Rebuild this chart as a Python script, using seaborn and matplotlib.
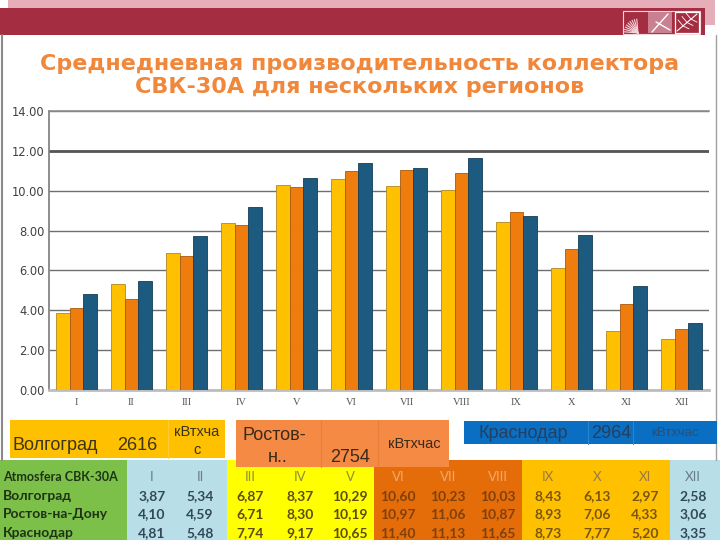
import numpy as np
import pandas as pd
import matplotlib.pyplot as plt
import seaborn as sns
from matplotlib.patches import Rectangle

# Данные: среднедневная производительность, кВт*ч
months = ["I", "II", "III", "IV", "V", "VI", "VII", "VIII", "IX", "X", "XI", "XII"]
volgograd = [3.87, 5.34, 6.87, 8.37, 10.29, 10.60, 10.23, 10.03, 8.43, 6.13, 2.97, 2.58]
rostov = [4.10, 4.59, 6.71, 8.30, 10.19, 10.97, 11.06, 10.87, 8.93, 7.06, 4.33, 3.06]
krasnodar = [4.81, 5.48, 7.74, 9.17, 10.65, 11.40, 11.13, 11.65, 8.73, 7.77, 5.20, 3.35]
regions = ["Волгоград", "Ростов-на-Дону", "Краснодар"]
totals = [2616, 2754, 2964]
unit = "кВтхчас"

bar_colors = ["#FFC000", "#EE7D0E", "#1D5A80"]
edge_colors = ["#B08A20", "#A85A10", "#143E58"]

df = pd.DataFrame({"month": months * 3,
                   "value": volgograd + rostov + krasnodar,
                   "region": np.repeat(regions, len(months))})

sns.set_theme(style="white")
plt.rcParams["font.family"] = ["DejaVu Sans"]

fig = plt.figure(figsize=(7.2, 5.4), dpi=100)

# фон слайда в пикселях
bg = fig.add_axes([0, 0, 1, 1])
bg.set_xlim(0, 720)
bg.set_ylim(540, 0)
bg.axis("off")

# шапка
bg.add_patch(Rectangle((8, 0), 707, 25, color="#E6AEB8", lw=0))
bg.add_patch(Rectangle((0, 8), 705, 27, color="#A52D42", lw=0))
# логотип
bg.add_patch(Rectangle((623, 11), 77, 23, fill=False, ec="#F3D6DB", lw=0.8))
for a in np.linspace(95, 175, 9):
    r = np.radians(a)
    bg.plot([638, 638 + 14 * np.cos(r)], [33, 33 - 14 * np.sin(r)], color="#F3D6DB", lw=0.8)
bg.add_patch(Rectangle((648, 12), 24, 21, color="#C98090", lw=0))
bg.plot([652, 668], [32, 14], color="white", lw=1)
bg.plot([656, 670], [22, 30], color="white", lw=1)
bg.add_patch(Rectangle((675, 12), 24, 21, fill=False, ec="white", lw=0.9))
bg.plot([677, 697], [31, 14], color="white", lw=0.8)
for t in [0.3, 0.5, 0.7]:
    x0, y0 = 677 + 20 * t, 31 - 17 * t
    bg.plot([x0, x0 - 5], [y0, y0 - 6], color="white", lw=0.6)
    bg.plot([x0, x0 + 6], [y0, y0 + 3], color="white", lw=0.6)

# рамка слайда
bg.plot([1.5, 1.5], [35, 460], color="#8A8A8A", lw=1.5)
bg.plot([716, 716], [35, 460], color="#A0A0A0", lw=1.0)

# заголовок
title_color = "#F0873A"
bg.text(360, 64, "Среднедневная производительность коллектора", ha="center", va="center",
        fontsize=16, fontweight="bold", color=title_color)
bg.text(360, 87, "СВК-30А для нескольких регионов", ha="center", va="center",
        fontsize=16, fontweight="bold", color=title_color)

# график
ax = fig.add_axes([49 / 720, 150 / 540, 660 / 720, 279 / 540])
sns.barplot(data=df, x="month", y="value", hue="region", palette=bar_colors,
            saturation=1, width=0.73, legend=False, ax=ax, zorder=3)
for bars, ec in zip(ax.containers, edge_colors):
    for p in bars:
        p.set_edgecolor(ec)
        p.set_linewidth(0.6)

ax.set_xlim(-0.5, 11.5)
ax.set_ylim(0, 14)
ax.set_yticks(range(0, 15, 2))
ax.set_yticklabels([f"{v:.2f}" for v in range(0, 15, 2)], fontsize=8.3, color="#404040")
ax.set_xticks(range(len(months)))
ax.set_xticklabels(months, fontsize=7.5, color="#555555", family="Liberation Serif")
ax.tick_params(axis="y", length=0, pad=3)
ax.tick_params(axis="x", length=0, pad=6)
ax.set_xlabel("")
ax.set_ylabel("")
ax.set_axisbelow(True)
ax.yaxis.grid(True, color="#707070", lw=1)
ax.axhline(12, color="#555555", lw=2, zorder=1)
ax.spines["right"].set_visible(False)
ax.spines["left"].set_color("#808080")
ax.spines["top"].set_color("#8C8C8C")
ax.spines["top"].set_linewidth(1.2)
ax.spines["bottom"].set_color("#BDBDBD")
ax.spines["bottom"].set_linewidth(2)

# таблица
col_x = [152, 200, 250, 300, 350, 398, 448, 498, 548, 597, 645, 693]
row_y = [477, 496, 514, 533]
bands = [(0, 127, "#7CC04A"), (127, 227, "#B8DEE8"), (227, 374, "#FFFF00"),
         (374, 522, "#E46D0A"), (522, 670, "#FFC000"), (670, 720, "#B8DEE8")]
for x0, x1, c in bands:
    bg.add_patch(Rectangle((x0, 460), x1 - x0, 80, color=c, lw=0))

band_of_month = [1, 1, 2, 2, 2, 3, 3, 3, 4, 4, 4, 5]
head_colors = ["#1F3314", "#6A7A8A", "#8C8C40", "#F2A870", "#9A7A40", "#6A7A8A"]
num_colors = ["#1F3314", "#33475B", "#5C4C10", "#80400A", "#7A5510", "#33475B"]

tfont = "Lato"
bg.text(3, row_y[0], "Atmosfera СВК-30А", ha="left", va="center", fontsize=9,
        fontweight="bold", color=head_colors[0], family=tfont)
for i, m in enumerate(months):
    bg.text(col_x[i], row_y[0], m, ha="center", va="center", fontsize=9.5,
            color=head_colors[band_of_month[i]], family=tfont)
for r, (name, vals) in enumerate(zip(regions, [volgograd, rostov, krasnodar])):
    y = row_y[r + 1]
    bg.text(3, y, name, ha="left", va="center", fontsize=10, fontweight="bold",
            color=num_colors[0], family=tfont)
    for i, v in enumerate(vals):
        bg.text(col_x[i], y, f"{v:.2f}".replace(".", ","), ha="center", va="center",
                fontsize=10, fontweight="bold", color=num_colors[band_of_month[i]],
                family=tfont)

# плашки с годовой выработкой
bfont = "Liberation Sans"
# Волгоград
bg.add_patch(Rectangle((10, 420), 215, 38, color="#FFC000", lw=0, zorder=3))
bg.plot([168, 168], [420, 458], color="#FFCC33", lw=0.8, zorder=4)
bg.text(13, 445, regions[0], ha="left", va="center", fontsize=13, color="#3A3418",
        family=bfont, zorder=5)
bg.text(137, 445, str(totals[0]), ha="center", va="center", fontsize=13, color="#3A3418",
        family=bfont, zorder=5)
bg.text(197, 432, unit[:6], ha="center", va="center", fontsize=10.5, color="#3A3418",
        family=bfont, zorder=5)
bg.text(197, 450, unit[6:], ha="center", va="center", fontsize=10.5, color="#3A3418",
        family=bfont, zorder=5)

# Ростов-на-Дону
bg.add_patch(Rectangle((236, 420), 213, 47, color="#F58A45", lw=0, zorder=3))
for sx in [321, 378]:
    bg.plot([sx, sx], [420, 467], color="#E8803C", lw=0.8, zorder=4)
bg.text(243, 435, "Ростов-", ha="left", va="center", fontsize=13, color="#3A2A1A",
        family=bfont, zorder=5)
bg.text(278, 458, "н..", ha="center", va="center", fontsize=13, color="#3A2A1A",
        family=bfont, zorder=5)
bg.text(350, 457, str(totals[1]), ha="center", va="center", fontsize=13, color="#3A2A1A",
        family=bfont, zorder=5)
bg.text(414, 444, unit, ha="center", va="center", fontsize=10.5, color="#3A2A1A",
        family=bfont, zorder=5)

# Краснодар
bg.add_patch(Rectangle((464, 421), 253, 23, color="#0A6FC2", lw=0, zorder=3))
for sx in [588, 633]:
    bg.plot([sx, sx], [421, 444], color="#2C84CC", lw=0.8, zorder=4)
bg.text(478, 433, regions[2], ha="left", va="center", fontsize=13, color="#263F5C",
        family=bfont, zorder=5)
bg.text(611, 433, str(totals[2]), ha="center", va="center", fontsize=13, color="#263F5C",
        family=bfont, zorder=5)
bg.text(675, 433, unit, ha="center", va="center", fontsize=9.5, color="#2A4F74",
        family=bfont, zorder=5)

fig.savefig("out.png", dpi=100)
